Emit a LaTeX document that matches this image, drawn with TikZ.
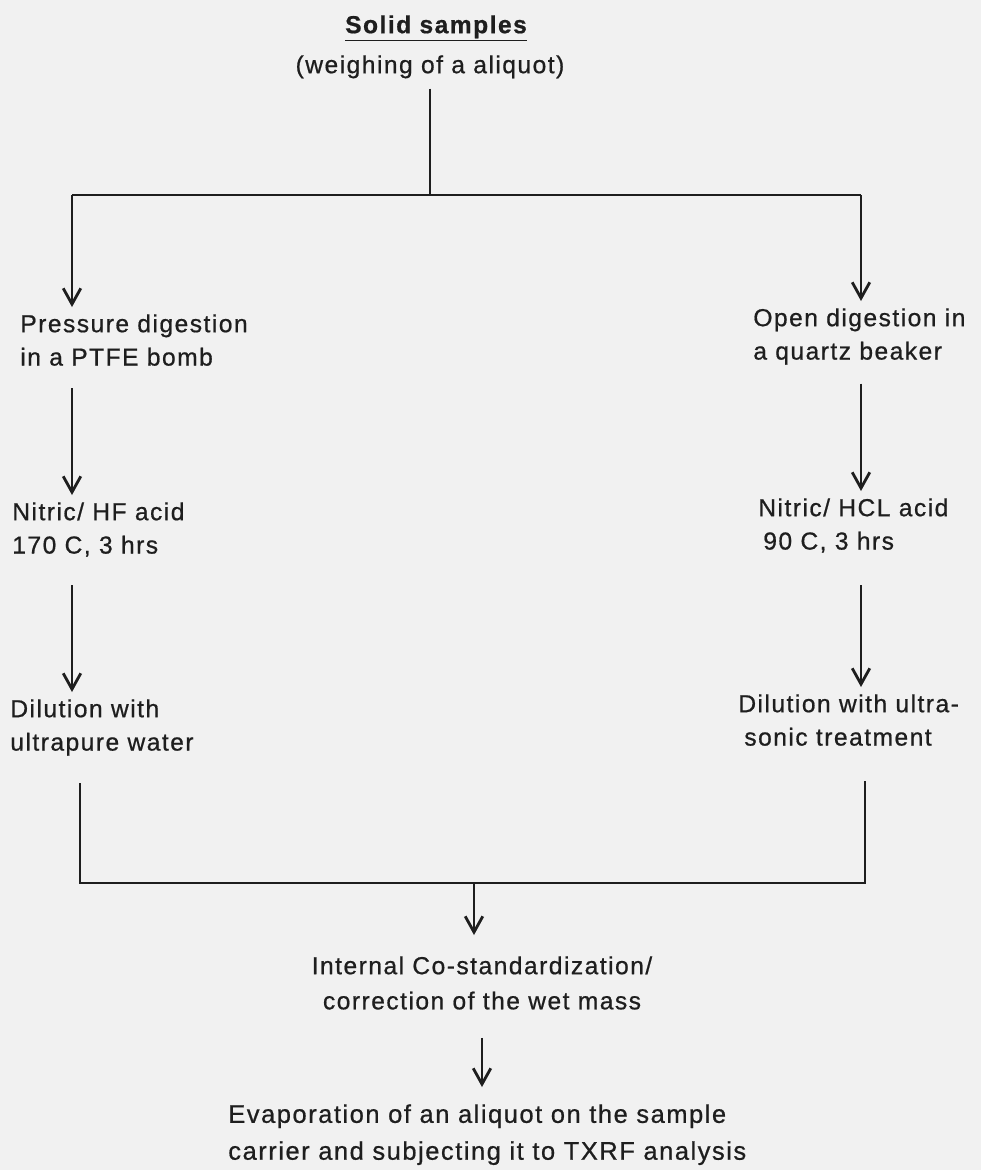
\documentclass[tikz,border=0pt]{standalone}
\usepackage{fontspec}
\setmainfont{Liberation Sans}[LetterSpace=6.0, FakeBold=0.7]
\usepackage{tikz}
\usetikzlibrary{arrows.meta, calc, backgrounds}
\definecolor{ink}{HTML}{1E1E1E}
\definecolor{paper}{HTML}{F1F1F1}
\tikzset{
  font=\fontsize{14}{19}\selectfont,
  >={Straight Barb[length=9pt, width=10pt]},
  %
  txt/.style={text=ink, inner sep=0pt, align=left, anchor=north west},
  txtc/.style={txt, align=center, anchor=north},
  %
  link/.style={draw=ink, line width=1.6pt},
  flow/.style={link, ->, shorten >=0.14cm},
}

\begin{document}
\begin{tikzpicture}[x=0.02cm, y=-0.02cm]

  \fill[paper] (0,0) rectangle (981,1170);
  \useasboundingbox (0,0) rectangle (981,1170);

  \node[txtc, font=\fontsize{14}{19}\selectfont\bfseries] (solid) at (436,15) {\underline{Solid samples}};
  \node[txtc] (weigh) at (430,55) {(weighing of a aliquot)};

  \node[txt] (press) at (20,314)  {Pressure digestion\\in a PTFE bomb};
  \node[txt] (open)  at (753,308) {Open digestion in\\a quartz beaker};

  \node[txt] (acidL) at (12,502)  {Nitric/ HF acid\\170 C, 3 hrs};
  \node[txt] (acidR) at (758,498) {Nitric/ HCL acid\\\hspace*{0.1cm}90 C, 3 hrs};

  \node[txt] (diluL) at (10,699)  {Dilution with\\ultrapure water};
  \node[txt] (diluR) at (738,694) {Dilution with ultra-\\\hspace*{0.12cm}sonic treatment};

  \node[txtc, font=\fontsize{14}{20}\selectfont] (costd) at (482,956)
    {Internal Co-standardization/\\correction of the wet mass};
  \node[txt, font=\fontsize{14.5}{21}\selectfont] (evap) at (228,1104)
    {Evaporation of an aliquot on the sample\\carrier and subjecting it to TXRF analysis};

  % fork and join points
  \coordinate (forkL) at (72,195);
  \coordinate (forkR) at (861,195);
  \coordinate (joinL) at (80,883);
  \coordinate (joinR) at (865,883);
  \coordinate (joinM) at (474,883);

  \draw[link, shorten <=0.2cm] (weigh.south) -- (weigh.south |- forkL);
  \draw[link] (forkL) -- (forkR);
  \draw[flow] (forkL) -- (forkL |- press.north);
  \draw[flow] (forkR) -- (forkR |- open.north);

  \draw[flow, shorten <=0.44cm] (press.south -| forkL) -- (acidL.north -| forkL);
  \draw[flow, shorten <=0.37cm] (open.south -| forkR) -- (acidR.north -| forkR);
  \draw[flow, shorten <=0.56cm] (acidL.south -| forkL) -- (diluL.north -| forkL);
  \draw[flow, shorten <=0.64cm] (acidR.south -| forkR) -- (diluR.north -| forkR);

  \draw[link, shorten <=0.54cm, shorten >=0.7cm]
    (diluL.south -| joinL) -- (joinL) -- (joinR) -- (diluR.south -| joinR);
  \draw[flow, shorten >=0.42cm] (joinM) -- (joinM |- costd.north);
  \draw[flow, shorten <=0.56cm, shorten >=0.34cm] (costd.south) -- (costd.south |- evap.north);

\end{tikzpicture}
\end{document}
